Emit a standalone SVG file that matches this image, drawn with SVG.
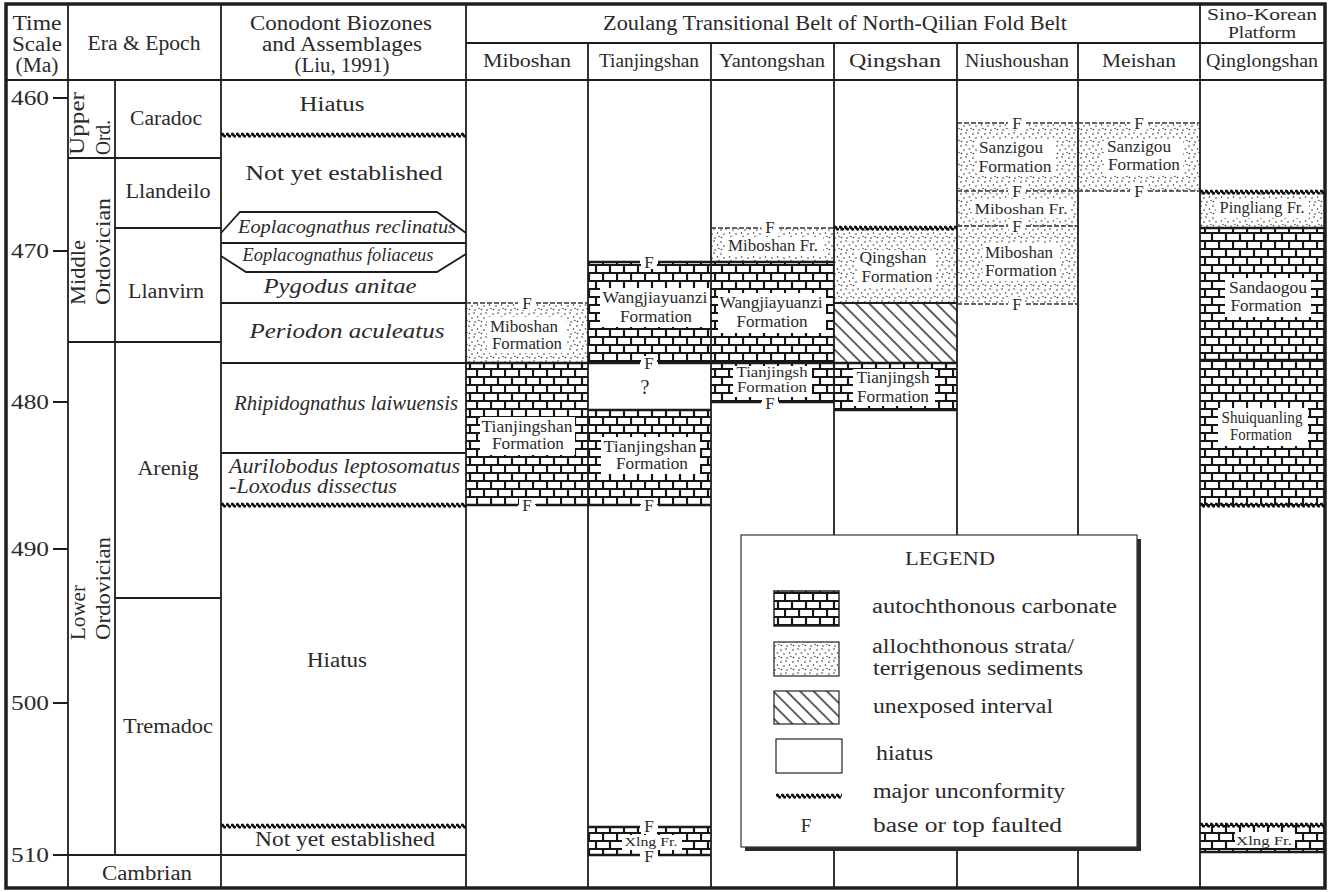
<svg xmlns="http://www.w3.org/2000/svg" width="1337" height="892" viewBox="0 0 1337 892">
<style>
text{font-family:"Liberation Serif","Times New Roman",serif;fill:#2a2a2a}
.h{font-size:20px;text-anchor:middle}
.sh{font-size:19px;text-anchor:middle}
.r{font-size:20px}
.tk{font-size:20px;text-anchor:end}
.it{font-style:italic}
.fm{font-size:16.5px;text-anchor:middle}
.sm{font-size:12px;text-anchor:middle}
.F{font-size:17px;text-anchor:middle}
.lg{font-size:20px}
.ln{stroke:#1e1e1e;stroke-width:1.8;fill:none}
.th{stroke:#1a1a1a;stroke-width:2.6;fill:none}
.ds{stroke:#333;stroke-width:1.3;stroke-dasharray:5 2;fill:none}
.wv{fill:url(#wave)}
.br{fill:url(#brick)}
.dt{fill:url(#dots)}
.ht{fill:url(#hatch)}
.wb{fill:#fff}
</style>
<defs>
<pattern id="brick" width="14" height="16" patternUnits="userSpaceOnUse">
<rect width="14" height="16" fill="#fff"/>
<path d="M0,1H14M0,9H14M1,0V9M8,8V16" stroke="#151515" stroke-width="2.2" fill="none"/>
</pattern>
<pattern id="dots" width="12" height="12" patternUnits="userSpaceOnUse">
<rect width="12" height="12" fill="#fff"/>
<g fill="#333"><circle cx="1" cy="2" r="0.8"/><circle cx="6" cy="1" r="0.8"/><circle cx="4" cy="6" r="0.8"/><circle cx="9.5" cy="5" r="0.8"/><circle cx="1.5" cy="9.5" r="0.8"/><circle cx="7" cy="10" r="0.8"/><circle cx="11" cy="8.5" r="0.7"/></g>
</pattern>
<pattern id="hatch" width="9.5" height="10" patternUnits="userSpaceOnUse" patternTransform="rotate(-45)">
<rect width="9.5" height="10" fill="#fff"/>
<line x1="1" y1="0" x2="1" y2="10" stroke="#222" stroke-width="1.4"/>
</pattern>
<pattern id="wave" width="5" height="6" patternUnits="userSpaceOnUse">
<path d="M0,3.2Q1.25,0.6 2.5,3.2T5,3.2" fill="none" stroke="#111" stroke-width="2.6"/>
</pattern>
</defs>
<rect x="0" y="0" width="1337" height="892" fill="#fff"/>

<g id="strata-fills">
<rect class="dt" x="466" y="303" width="122" height="60"/>
<rect class="br" x="466" y="363" width="122" height="142"/>
<rect class="br" x="588" y="262" width="123" height="101"/>
<rect class="br" x="588" y="410" width="123" height="95"/>
<rect class="br" x="588" y="827" width="123" height="28"/>
<rect class="dt" x="711" y="228" width="123" height="34"/>
<rect class="br" x="711" y="262" width="123" height="140"/>
<rect class="dt" x="834" y="228" width="123" height="75"/>
<rect class="ht" x="834" y="303" width="123" height="60"/>
<rect class="br" x="834" y="363" width="123" height="47"/>
<rect class="dt" x="957" y="123" width="121" height="181"/>
<rect class="dt" x="1078" y="123" width="122" height="68"/>
<rect class="dt" x="1200" y="192" width="125" height="36"/>
<rect class="br" x="1200" y="228" width="125" height="277"/>
<rect class="br" x="1200" y="825" width="125" height="27"/>
</g>

<g id="label-boxes">
<rect class="wb" x="487" y="317" width="79" height="36"/>
<rect class="wb" x="480" y="417" width="95" height="38"/>
<rect class="wb" x="600" y="288" width="110" height="39"/>
<rect class="wb" x="601" y="437" width="99" height="37"/>
<rect class="wb" x="725" y="237" width="98" height="18"/>
<rect class="wb" x="718" y="293" width="108" height="40"/>
<rect class="wb" x="733" y="366" width="79" height="31"/>
<rect class="wb" x="857" y="250" width="79" height="37"/>
<rect class="wb" x="853" y="369" width="82" height="37"/>
<rect class="wb" x="977" y="140" width="79" height="36"/>
<rect class="wb" x="972" y="200" width="99" height="18"/>
<rect class="wb" x="983" y="244" width="77" height="37"/>
<rect class="wb" x="1104" y="139" width="79" height="36"/>
<rect class="wb" x="1216" y="199" width="93" height="19"/>
<rect class="wb" x="1225" y="278" width="86" height="39"/>
<rect class="wb" x="1218" y="408" width="90" height="38"/>
<rect class="wb" x="622" y="835" width="60" height="15"/>
<rect class="wb" x="1235" y="832" width="60" height="16"/>
</g>

<g id="grid">
<path class="ln" d="M6,80H1325M466,43H1325"/>
<path class="ln" d="M68,4V888M221,4V888M466,4V888M1200,4V888"/>
<path class="ln" d="M588,43V888M711,43V888M834,43V888M957,43V888M1078,43V888"/>
<path class="ln" d="M115,80V855"/>
<path class="ln" d="M68,158H221M115,228H221M68,342H221M115,598H221M53,855H466"/>
<path class="ln" d="M53,98H68M53,251H68M53,402H68M53,549H68M53,703H68"/>
<rect x="6" y="4" width="1319" height="884" fill="none" stroke="#1e1e1e" stroke-width="3.5"/>
</g>

<g id="conodont-lines">
<path class="ln" d="M221,233L240,212H437L466,233"/>
<path class="ln" d="M221,243H466"/>
<path class="ln" d="M221,256L246,272H437L466,254"/>
<path class="ln" d="M221,303H466M221,363H466M221,453H466"/>
<rect class="wv" x="0" y="0" width="245" height="6" transform="translate(221,132)"/>
<rect class="wv" x="0" y="0" width="245" height="6" transform="translate(221,502)"/>
<rect class="wv" x="0" y="0" width="245" height="6" transform="translate(221,823)"/>
</g>

<g id="strata-borders">
<path class="th" d="M466,363H588M588,410H711M711,262H834M711,363H834M834,363H957M834,410H957M1200,228H1325M1200,360H1325M1200,852H1325"/>
<path class="ln" d="M834,303H957"/>
<rect class="wv" x="0" y="0" width="123" height="6" transform="translate(834,225)"/>
<rect class="wv" x="0" y="0" width="125" height="6" transform="translate(1200,189)"/>
<rect class="wv" x="0" y="0" width="125" height="6" transform="translate(1200,502)"/>
<rect class="wv" x="0" y="0" width="125" height="6" transform="translate(1200,822)"/>
<g id="fault-marks">
<path class="ds" d="M466,303H518M536,303H588"/>
<path class="th" d="M466,505H518M536,505H588"/>
<path class="th" d="M588,262H640M658,262H711M588,363H640M658,363H711M588,505H640M658,505H711M588,827H640M658,827H711M588,855H640M658,855H711"/>
<path class="ds" d="M711,228H761M779,228H834"/>
<path class="th" d="M711,402H761M779,402H834"/>
<path class="ds" d="M957,123H1008M1026,123H1078M957,191H1008M1026,191H1078M957,226H1008M1026,226H1078M957,304H1008M1026,304H1078"/>
<path class="ds" d="M1078,123H1130M1148,123H1200M1078,191H1130M1148,191H1200"/>
<g class="wb">
<rect x="519" y="296" width="16" height="14"/><rect x="519" y="498" width="16" height="14"/>
<rect x="641" y="255" width="16" height="14"/><rect x="641" y="356" width="16" height="14"/><rect x="641" y="498" width="16" height="14"/><rect x="641" y="820" width="16" height="14"/><rect x="641" y="848" width="16" height="14"/>
<rect x="762" y="221" width="16" height="14"/><rect x="762" y="395" width="16" height="14"/>
<rect x="1009" y="116" width="16" height="14"/><rect x="1009" y="184" width="16" height="14"/><rect x="1009" y="219" width="16" height="14"/><rect x="1009" y="297" width="16" height="14"/>
<rect x="1131" y="116" width="16" height="14"/><rect x="1131" y="184" width="16" height="14"/>
</g>
<text class="F" x="527" y="309">F</text><text class="F" x="527" y="511">F</text>
<text class="F" x="649" y="268">F</text><text class="F" x="649" y="369">F</text><text class="F" x="649" y="511">F</text><text class="F" x="649" y="832">F</text><text class="F" x="649" y="862">F</text>
<text class="F" x="770" y="233">F</text><text class="F" x="770" y="409">F</text>
<text class="F" x="1017" y="129">F</text><text class="F" x="1017" y="196.5">F</text><text class="F" x="1017" y="232">F</text><text class="F" x="1017" y="310">F</text>
<text class="F" x="1139" y="129">F</text><text class="F" x="1139" y="197">F</text>
</g>
</g>

<g id="header">
<text class="h" x="37" y="30" textLength="49" lengthAdjust="spacingAndGlyphs">Time</text>
<text class="h" x="37" y="51" textLength="50" lengthAdjust="spacingAndGlyphs">Scale</text>
<text class="h" x="37" y="72" textLength="43" lengthAdjust="spacingAndGlyphs">(Ma)</text>
<text class="h" x="144" y="50" textLength="113" lengthAdjust="spacingAndGlyphs">Era &amp; Epoch</text>
<text class="h" x="341" y="30" textLength="182" lengthAdjust="spacingAndGlyphs">Conodont Biozones</text>
<text class="h" x="342" y="51" textLength="160" lengthAdjust="spacingAndGlyphs">and Assemblages</text>
<text class="h" x="342" y="72" textLength="95" lengthAdjust="spacingAndGlyphs">(Liu, 1991)</text>
<text class="h" x="835" y="30" textLength="464" lengthAdjust="spacingAndGlyphs">Zoulang Transitional Belt of North-Qilian Fold Belt</text>
<text class="h" x="1262" y="20" style="font-size:17px" textLength="110" lengthAdjust="spacingAndGlyphs">Sino-Korean</text>
<text class="h" x="1262" y="38" style="font-size:17px" textLength="68" lengthAdjust="spacingAndGlyphs">Platform</text>
<text class="sh" x="527" y="67" textLength="88" lengthAdjust="spacingAndGlyphs">Miboshan</text>
<text class="sh" x="649" y="67" textLength="100" lengthAdjust="spacingAndGlyphs">Tianjingshan</text>
<text class="sh" x="772" y="67" textLength="106" lengthAdjust="spacingAndGlyphs">Yantongshan</text>
<text class="sh" x="895" y="67" textLength="92" lengthAdjust="spacingAndGlyphs">Qingshan</text>
<text class="sh" x="1017" y="67" textLength="104" lengthAdjust="spacingAndGlyphs">Niushoushan</text>
<text class="sh" x="1139" y="67" textLength="74" lengthAdjust="spacingAndGlyphs">Meishan</text>
<text class="sh" x="1262" y="67" textLength="112" lengthAdjust="spacingAndGlyphs">Qinglongshan</text>
</g>

<g id="time-scale">
<text class="tk" x="49" y="105" textLength="38" lengthAdjust="spacingAndGlyphs">460</text>
<text class="tk" x="49" y="258" textLength="38" lengthAdjust="spacingAndGlyphs">470</text>
<text class="tk" x="49" y="409" textLength="38" lengthAdjust="spacingAndGlyphs">480</text>
<text class="tk" x="49" y="556" textLength="38" lengthAdjust="spacingAndGlyphs">490</text>
<text class="tk" x="49" y="710" textLength="38" lengthAdjust="spacingAndGlyphs">500</text>
<text class="tk" x="49" y="862" textLength="38" lengthAdjust="spacingAndGlyphs">510</text>
</g>

<g id="era-epoch">
<text class="r" transform="translate(84,155) rotate(-90)" textLength="63" lengthAdjust="spacingAndGlyphs">Upper</text>
<text class="r" transform="translate(110,155) rotate(-90)" textLength="35" lengthAdjust="spacingAndGlyphs">Ord.</text>
<text class="r" transform="translate(85,305) rotate(-90)" textLength="65" lengthAdjust="spacingAndGlyphs">Middle</text>
<text class="r" transform="translate(110,305) rotate(-90)" textLength="107" lengthAdjust="spacingAndGlyphs">Ordovician</text>
<text class="r" transform="translate(85,640) rotate(-90)" textLength="55" lengthAdjust="spacingAndGlyphs">Lower</text>
<text class="r" transform="translate(110,640) rotate(-90)" textLength="103" lengthAdjust="spacingAndGlyphs">Ordovician</text>
<text class="h" x="166" y="125" textLength="72" lengthAdjust="spacingAndGlyphs">Caradoc</text>
<text class="h" x="168" y="198" textLength="85" lengthAdjust="spacingAndGlyphs">Llandeilo</text>
<text class="h" x="166" y="298" textLength="76" lengthAdjust="spacingAndGlyphs">Llanvirn</text>
<text class="h" x="168" y="475" textLength="61" lengthAdjust="spacingAndGlyphs">Arenig</text>
<text class="h" x="168" y="733" textLength="90" lengthAdjust="spacingAndGlyphs">Tremadoc</text>
<text class="h" x="147" y="880" textLength="90" lengthAdjust="spacingAndGlyphs">Cambrian</text>
</g>

<g id="conodont-zones">
<text class="h" x="332" y="111" textLength="65" lengthAdjust="spacingAndGlyphs">Hiatus</text>
<text class="h" x="344" y="180" textLength="197" lengthAdjust="spacingAndGlyphs">Not yet established</text>
<text class="h it" x="347" y="233" style="font-size:18px" textLength="218" lengthAdjust="spacingAndGlyphs">Eoplacognathus reclinatus</text>
<text class="h it" x="338" y="261" style="font-size:18px" textLength="191" lengthAdjust="spacingAndGlyphs">Eoplacognathus foliaceus</text>
<text class="h it" x="340" y="293" textLength="153" lengthAdjust="spacingAndGlyphs">Pygodus anitae</text>
<text class="h it" x="347" y="338" textLength="195" lengthAdjust="spacingAndGlyphs">Periodon aculeatus</text>
<text class="h it" x="346" y="410" textLength="224" lengthAdjust="spacingAndGlyphs">Rhipidognathus laiwuensis</text>
<text class="r it" x="229" y="473" textLength="231" lengthAdjust="spacingAndGlyphs">Aurilobodus leptosomatus</text>
<text class="r it" x="229" y="493" textLength="168" lengthAdjust="spacingAndGlyphs">-Loxodus  dissectus</text>
<text class="h" x="337" y="667" textLength="60" lengthAdjust="spacingAndGlyphs">Hiatus</text>
<text class="h" x="345" y="846" textLength="180" lengthAdjust="spacingAndGlyphs">Not yet established</text>
</g>

<g id="strata-labels">
<text class="fm" x="524" y="332" textLength="68" lengthAdjust="spacingAndGlyphs">Miboshan</text>
<text class="fm" x="527" y="349" textLength="70" lengthAdjust="spacingAndGlyphs">Formation</text>
<text class="fm" x="527" y="432" textLength="91" lengthAdjust="spacingAndGlyphs">Tianjingshan</text>
<text class="fm" x="528" y="449" textLength="72" lengthAdjust="spacingAndGlyphs">Formation</text>
<text class="fm" x="655" y="303" textLength="105" lengthAdjust="spacingAndGlyphs">Wangjiayuanzi</text>
<text class="fm" x="656" y="322" textLength="72" lengthAdjust="spacingAndGlyphs">Formation</text>
<text class="h" x="645" y="394">?</text>
<text class="fm" x="650" y="452" textLength="93" lengthAdjust="spacingAndGlyphs">Tianjingshan</text>
<text class="fm" x="652" y="469" textLength="72" lengthAdjust="spacingAndGlyphs">Formation</text>
<text class="fm" x="773" y="251" textLength="90" lengthAdjust="spacingAndGlyphs">Miboshan Fr.</text>
<text class="fm" x="771" y="308" textLength="103" lengthAdjust="spacingAndGlyphs">Wangjiayuanzi</text>
<text class="fm" x="772" y="327" textLength="71" lengthAdjust="spacingAndGlyphs">Formation</text>
<text class="fm" x="772" y="377" style="font-size:14.5px" textLength="71" lengthAdjust="spacingAndGlyphs">Tianjingsh</text>
<text class="fm" x="772" y="392" style="font-size:14.5px" textLength="70" lengthAdjust="spacingAndGlyphs">Formation</text>
<text class="fm" x="893" y="263" textLength="67" lengthAdjust="spacingAndGlyphs">Qingshan</text>
<text class="fm" x="897" y="282" textLength="71" lengthAdjust="spacingAndGlyphs">Formation</text>
<text class="fm" x="893" y="383" textLength="73" lengthAdjust="spacingAndGlyphs">Tianjingsh</text>
<text class="fm" x="893" y="402" textLength="72" lengthAdjust="spacingAndGlyphs">Formation</text>
<text class="fm" x="1011" y="153" textLength="64" lengthAdjust="spacingAndGlyphs">Sanzigou</text>
<text class="fm" x="1015" y="172" textLength="73" lengthAdjust="spacingAndGlyphs">Formation</text>
<text class="fm" x="1021" y="214" style="font-size:15.5px" textLength="93" lengthAdjust="spacingAndGlyphs">Miboshan Fr.</text>
<text class="fm" x="1019" y="258" textLength="68" lengthAdjust="spacingAndGlyphs">Miboshan</text>
<text class="fm" x="1021" y="276" textLength="72" lengthAdjust="spacingAndGlyphs">Formation</text>
<text class="fm" x="1139" y="152" textLength="64" lengthAdjust="spacingAndGlyphs">Sanzigou</text>
<text class="fm" x="1144" y="170" textLength="72" lengthAdjust="spacingAndGlyphs">Formation</text>
<text class="fm" x="1262" y="213" textLength="85" lengthAdjust="spacingAndGlyphs">Pingliang Fr.</text>
<text class="fm" x="1268" y="293" textLength="78" lengthAdjust="spacingAndGlyphs">Sandaogou</text>
<text class="fm" x="1266" y="311" textLength="71" lengthAdjust="spacingAndGlyphs">Formation</text>
<text class="fm" x="1262" y="423" textLength="81" lengthAdjust="spacingAndGlyphs">Shuiquanling</text>
<text class="fm" x="1261" y="440" textLength="62" lengthAdjust="spacingAndGlyphs">Formation</text>
<text class="sm" x="651" y="846" textLength="53" lengthAdjust="spacingAndGlyphs">Xlng Fr.</text>
<text class="sm" x="1264" y="845" textLength="56" lengthAdjust="spacingAndGlyphs">Xlng Fr.</text>
</g>

<g id="legend">
<rect x="745" y="539" width="396" height="312" fill="#2a2a2a"/>
<rect x="741" y="535" width="396" height="312" fill="#fff" stroke="#333" stroke-width="1.2"/>
<text class="h" x="950" y="565" style="font-size:19px" textLength="90" lengthAdjust="spacingAndGlyphs">LEGEND</text>
<rect class="br" x="774" y="591" width="65" height="35" stroke="#222" stroke-width="1.5"/>
<rect class="dt" x="774" y="642" width="65" height="34" stroke="#222" stroke-width="1.2"/>
<rect class="ht" x="774" y="691" width="65" height="33" stroke="#222" stroke-width="1.2"/>
<rect x="776" y="739" width="66" height="34" fill="#fff" stroke="#222" stroke-width="1.2"/>
<rect class="wv" x="0" y="0" width="66" height="6" transform="translate(776,793)"/>
<text class="F" x="806" y="832" style="font-size:19px">F</text>
<text class="lg" x="872" y="613" textLength="245" lengthAdjust="spacingAndGlyphs">autochthonous carbonate</text>
<text class="lg" x="872" y="653" textLength="202" lengthAdjust="spacingAndGlyphs">allochthonous strata/</text>
<text class="lg" x="873" y="675" textLength="210" lengthAdjust="spacingAndGlyphs">terrigenous sediments</text>
<text class="lg" x="873" y="713" textLength="180" lengthAdjust="spacingAndGlyphs">unexposed interval</text>
<text class="lg" x="876" y="760" textLength="57" lengthAdjust="spacingAndGlyphs">hiatus</text>
<text class="lg" x="873" y="798" textLength="192" lengthAdjust="spacingAndGlyphs">major unconformity</text>
<text class="lg" x="873" y="832" textLength="189" lengthAdjust="spacingAndGlyphs">base or top faulted</text>
</g>
</svg>
